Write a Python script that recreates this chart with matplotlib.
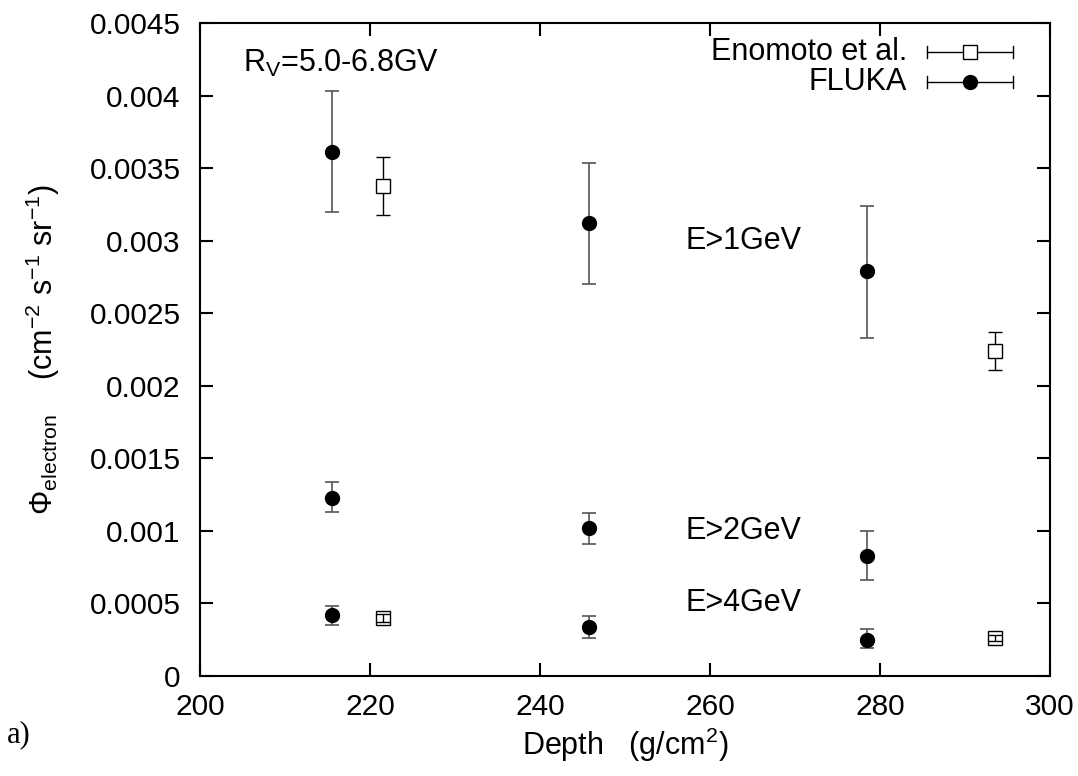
import matplotlib
matplotlib.use("Agg")
from matplotlib import pyplot as plt
from matplotlib.lines import Line2D

plt.rcParams['font.family'] = ['Liberation Sans', 'DejaVu Sans']
plt.rcParams['mathtext.fontset'] = 'custom'
plt.rcParams['mathtext.rm'] = 'Liberation Sans'
plt.rcParams['mathtext.it'] = 'Liberation Sans:italic'

# FLUKA results (depth in g/cm^2)
fluka_depth = [215.5, 245.8, 278.5]
fluka_e1 = [0.00361, 0.00312, 0.00279]
fluka_e1_lo = [0.00320, 0.00270, 0.00233]
fluka_e1_hi = [0.00403, 0.00354, 0.00324]
fluka_e2 = [0.00123, 0.00102, 0.00083]
fluka_e2_lo = [0.00113, 0.00091, 0.00066]
fluka_e2_hi = [0.00134, 0.00112, 0.00100]
fluka_e4 = [0.00042, 0.00034, 0.00025]
fluka_e4_lo = [0.00035, 0.00026, 0.00019]
fluka_e4_hi = [0.00048, 0.00041, 0.00032]

# Enomoto et al. measurements
eno_depth = [221.5, 293.5]
eno_e1 = [0.00338, 0.00224]
eno_e1_lo = [0.00318, 0.00211]
eno_e1_hi = [0.00358, 0.00237]
eno_e4 = [0.00040, 0.00026]
eno_e4_lo = [0.00037, 0.00024]
eno_e4_hi = [0.00043, 0.00028]

FS = 22

fig = plt.figure(figsize=(10.78, 7.76), dpi=100)
ax = fig.add_axes([0.1855, 0.129, 0.7885, 0.841])

errc = '#555555'


def errs(v, lo, hi):
    return [[a - b for a, b in zip(v, lo)], [c - a for a, c in zip(v, hi)]]


for v, lo, hi in [(fluka_e1, fluka_e1_lo, fluka_e1_hi),
                  (fluka_e2, fluka_e2_lo, fluka_e2_hi),
                  (fluka_e4, fluka_e4_lo, fluka_e4_hi)]:
    ax.errorbar(fluka_depth, v, yerr=errs(v, lo, hi), fmt='o', color='black',
                ecolor=errc, elinewidth=1.2, capsize=4.7, capthick=1.2,
                markersize=10)

for v, lo, hi, fc in [(eno_e1, eno_e1_lo, eno_e1_hi, 'white'),
                      (eno_e4, eno_e4_lo, eno_e4_hi, 'none')]:
    ax.errorbar(eno_depth, v, yerr=errs(v, lo, hi), fmt='s', color='black',
                mfc=fc, mec='black', mew=1.0, ecolor='black',
                elinewidth=1.0, capsize=4.7, capthick=1.0, markersize=10)

ax.set_xlim(200, 300)
ax.set_ylim(0, 0.0045)
ax.set_xticks([200, 220, 240, 260, 280, 300])
ax.set_yticks([0, 0.0005, 0.001, 0.0015, 0.002, 0.0025, 0.003, 0.0035, 0.004, 0.0045])
ax.set_yticklabels(['0', '0.0005', '0.001', '0.0015', '0.002', '0.0025',
                    '0.003', '0.0035', '0.004', '0.0045'])
ax.tick_params(direction='in', length=9.5, width=1.5, labelsize=21.5,
               top=True, right=True)
ax.tick_params(axis='y', pad=14)
ax.tick_params(axis='x', pad=12)
for s in ax.spines.values():
    s.set_linewidth(1.5)

ax.set_xlabel('Depth   (g/cm$^{2}$)', fontsize=FS, labelpad=4)
ax.set_ylabel(r'$\Phi_{\rm electron}$    (cm$^{-2}$ s$^{-1}$ sr$^{-1}$)',
              fontsize=FS, labelpad=20)

ax.text(0.051, 0.939, 'R$_{\\rm V}$=5.0-6.8GV', transform=ax.transAxes,
        fontsize=FS, va='center')
ax.text(0.571, 0.666, 'E>1GeV', transform=ax.transAxes, fontsize=FS, va='center')
ax.text(0.571, 0.222, 'E>2GeV', transform=ax.transAxes, fontsize=FS, va='center')
ax.text(0.571, 0.112, 'E>4GeV', transform=ax.transAxes, fontsize=FS, va='center')

# legend drawn by hand, gnuplot style
leg = [('Enomoto et al.', 's', 'white', 0.9556), ('FLUKA', 'o', 'black', 0.9096)]
for label, m, fc, yy in leg:
    ax.text(0.832, yy, label, transform=ax.transAxes, fontsize=FS,
            ha='right', va='center')
    ax.add_line(Line2D([0.855, 0.956], [yy, yy], transform=ax.transAxes,
                       color='black', lw=1.0))
    for xe in (0.855, 0.956):
        ax.add_line(Line2D([xe, xe], [yy - 0.009, yy + 0.009],
                           transform=ax.transAxes, color='black', lw=1.0))
    ax.add_line(Line2D([0.9055], [yy], transform=ax.transAxes, ls='none',
                       marker=m, mfc=fc, mec='black', markersize=10))

fig.text(0.0065, 0.053, 'a)', fontsize=FS, family='Liberation Serif', va='center')

fig.savefig('out.png', dpi=100)
